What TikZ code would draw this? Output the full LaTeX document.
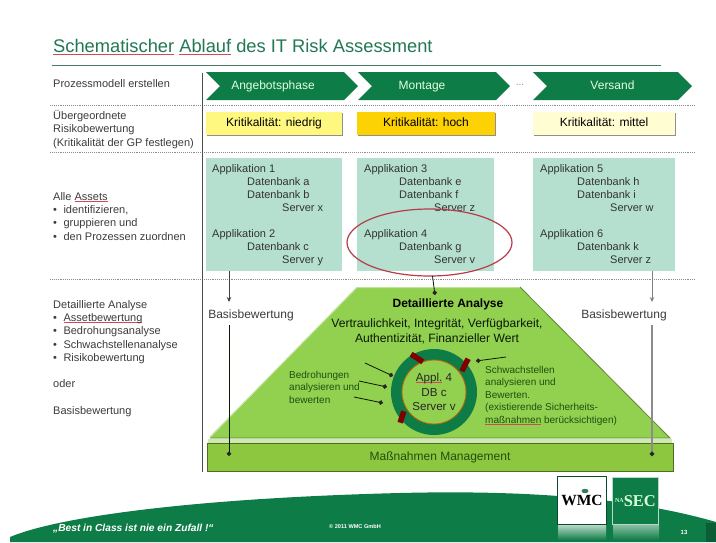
\documentclass[tikz,border=0pt]{standalone}
\usepackage{fontspec}
\setmainfont{Liberation Sans}
\newfontfamily\logofont{Liberation Serif}
\usepackage{tikz}
\usetikzlibrary{positioning, arrows.meta, shapes.symbols, shadows}

\definecolor{wmcgreen}{RGB}{14,124,70}
\definecolor{titlegreen}{RGB}{34,120,84}
\definecolor{labelgrey}{RGB}{60,60,60}
\definecolor{assetfill}{RGB}{181,224,208}
\definecolor{analysisfill}{RGB}{146,208,80}
\definecolor{barfill}{RGB}{141,198,63}
\definecolor{darkleaf}{RGB}{30,80,16}
\definecolor{spellred}{RGB}{215,70,85}

\newsavebox{\spellbox}
\newcommand{\spellmark}[1]{\sbox{\spellbox}{#1}\textcolor{spellred}{\rlap{\rule[-1.6pt]{\wd\spellbox}{.6pt}}}\usebox{\spellbox}}
\newcommand{\fsize}[2]{\fontsize{#1}{#2}\selectfont}

\begin{document}
\begin{tikzpicture}[
  x=1pt, y=-1pt,
  phase/.style={signal, signal to=east, signal from=west, fill=wmcgreen, text=white!88!green,
    minimum height=28pt, inner sep=0pt, text height=8.5pt, text depth=2.5pt, font=\fsize{12}{14}},
  level/.style={rectangle, minimum height=23pt, minimum width=136pt, inner sep=0pt, text height=8.5pt, text depth=2.5pt,
    font=\fsize{12}{14}, drop shadow={shadow xshift=1.2pt, shadow yshift=-1.2pt, fill=black!55, opacity=.8}},
  asset/.style={rectangle, fill=assetfill, minimum height=113pt, minimum width=136pt, inner sep=0pt},
  stacktext/.style={align=left, anchor=north west, inner sep=0pt, text=black!80, font=\fsize{11}{13.1}},
  lefttext/.style={align=left, anchor=north west, inner sep=0pt, text=labelgrey, font=\fsize{11}{13.3}},
  greentext/.style={align=left, anchor=north west, inner sep=0pt, text=darkleaf, font=\fsize{10}{12.4}},
  basis/.style={text=labelgrey, inner sep=0pt, font=\fsize{12}{14}},
  sep/.style={densely dotted, black!45, line width=.9pt},
  arrow/.style={-{Stealth[length=5pt,width=4.5pt]}, black!75, line width=.7pt},
  dotarrow/.style={-{Circle[length=4.5pt, color=black!85]}, black!70!darkleaf, line width=.8pt},
  weak/.style={rectangle, fill=red!50!black, minimum width=14pt, minimum height=5.5pt, inner sep=0pt}
]
  \useasboundingbox (0,0) rectangle (716,542);
  \fill[white] (0,0) rectangle (716,542);

  % Title
  \node[anchor=west, inner sep=0pt, text=titlegreen, font=\fsize{18.3}{22}] (title) at (53,47)
    {\spellmark{Schematischer} \spellmark{Ablauf} des IT Risk Assessment};
  \coordinate (ruleA) at (52,65);
  \coordinate (ruleB) at (661,65);
  \draw[titlegreen!60!gray, line width=.7pt] (ruleA) -- (ruleB);

  % Footer
  \fill[wmcgreen] (10,542) -- (10,537) .. controls (60,516) and (200,498) .. (400,493)
    .. controls (520,490) and (630,497) .. (716,522) -- (716,542) -- cycle;
  \fill[black!25!wmcgreen] (706,523) rectangle (716,542);
  \node[anchor=west, inner sep=0pt, text=white, font=\fsize{10.2}{12}\bfseries\itshape] (motto) at (53,529)
    {„Best in Class ist nie ein Zufall !“};
  \node[inner sep=0pt, text=white, font=\fsize{5.6}{8}\bfseries] (copyright) at (355,526) {© 2011 WMC GmbH};
  \node[inner sep=0pt, text=white, font=\fsize{6}{8}\bfseries] (pageno) at (684,532) {13};

  % Logos
  \shade[top color=wmcgreen!30!white, bottom color=wmcgreen] (558,525) rectangle (606,540);
  \shade[top color=wmcgreen!50!white, bottom color=wmcgreen] (613,525) rectangle (659,540);
  \node[rectangle, draw=black!40!wmcgreen, fill=white, line width=1pt, minimum width=49pt, minimum height=48pt,
    inner sep=0pt, font=\fsize{15.5}{17}\logofont\bfseries] (logoA) at (582,500.5) {\raisebox{-2.5pt}{WMC}};
  \node[rectangle, draw=white!70!wmcgreen, fill=wmcgreen, line width=1.2pt, minimum width=46pt, minimum height=47pt,
    inner sep=0pt, text=white!85!green, font=\fsize{16.5}{18}\logofont\bfseries] (logoB) at (635.5,501)
    {\raisebox{4pt}{\fsize{6}{8}NA}SEC};
  \fill[wmcgreen!70!gray] (585,491) ellipse [x radius=3.5, y radius=2.2];

  % Phases
  \node[phase, minimum width=152pt] (phaseA) at (282,86) {Angebotsphase\rule{18pt}{0pt}};
  \node[phase, minimum width=152pt] (phaseB) at (434,86) {Montage\rule{24pt}{0pt}};
  \node[phase, minimum width=159pt] (phaseC) at (612.5,86) {Versand};
  \node[inner sep=0pt, text=black!45, font=\fsize{10}{12}] (dots) at (520,85) {...};

  % Separators
  \coordinate (sepA) at (50,105);
  \coordinate (sepB) at (50,152);
  \coordinate (sepC) at (50,279);
  \coordinate (sepAe) at (695,105);
  \coordinate (sepBe) at (695,152);
  \coordinate (sepCe) at (695,279);
  \draw[sep] (sepA) -- (sepAe);
  \draw[sep] (sepB) -- (sepBe);
  \draw[sep] (sepC) -- (sepCe);

  % Left column
  \coordinate (axisA) at (202,73);
  \coordinate (axisB) at (202,472);
  \draw[black!70, line width=1pt] (axisA) -- (axisB);
  \node[lefttext] (stepA) at (53,79) {Prozessmodell erstellen};
  \node[lefttext] (stepB) at (53,110) {Übergeordnete\\Risikobewertung\\(Kritikalität der GP festlegen)};
  \node[lefttext] (stepC) at (53,192)
    {Alle \spellmark{Assets}\\•\hspace{6.5pt}identifizieren,\\•\hspace{6.5pt}gruppieren und\\•\hspace{6.5pt}den Prozessen zuordnen};
  \node[lefttext] (stepD) at (53,300)
    {Detaillierte Analyse\\•\hspace{6.5pt}\spellmark{Assetbewertung}\\•\hspace{6.5pt}Bedrohungsanalyse\\•\hspace{6.5pt}Schwachstellenanalyse\\•\hspace{6.5pt}Risikobewertung};
  \node[lefttext] (stepE) at (53,379) {oder};
  \node[lefttext] (stepF) at (53,406) {Basisbewertung};

  % Criticality
  \node[level, fill=yellow!50!white] (levelA) at (274,123.5) {Kritikalität: niedrig};
  \node[level, fill=yellow!70!orange, minimum width=138pt] (levelB) at (426,123.5) {Kritikalität: hoch};
  \node[level, fill=yellow!18!white, minimum width=142pt] (levelC) at (604,123.5) {Kritikalität: mittel};

  % Assets
  \node[asset] (appA) at (274,214.5) {};
  \node[asset, minimum width=137pt] (appB) at (425.5,214.5) {};
  \node[asset, minimum width=142pt] (appC) at (604,214.5) {};
  \node[stacktext] (appAtext) at (212,164)
    {Applikation 1\\\hspace*{35pt}Datenbank a\\\hspace*{35pt}Datenbank b\\\hspace*{70pt}Server x\\[13.1pt]
     Applikation 2\\\hspace*{35pt}Datenbank c\\\hspace*{70pt}Server y};
  \node[stacktext] (appBtext) at (364,164)
    {Applikation 3\\\hspace*{35pt}Datenbank e\\\hspace*{35pt}Datenbank f\\\hspace*{70pt}Server z\\[13.1pt]
     Applikation 4\\\hspace*{35pt}Datenbank g\\\hspace*{70pt}Server v};
  \node[stacktext] (appCtext) at (540,164)
    {Applikation 5\\\hspace*{37pt}Datenbank h\\\hspace*{37pt}Datenbank i\\\hspace*{70pt}Server w\\[13.1pt]
     Applikation 6\\\hspace*{37pt}Datenbank k\\\hspace*{70pt}Server z};

  % Detailed analysis
  \fill[analysisfill] (357,287) -- (520,287) -- (670,438) -- (210,438) -- cycle;
  \draw[analysisfill!60!white, line width=1pt] (210,437) -- (357,287.5) -- (520,287.5);
  \draw[black!35!analysisfill, line width=.8pt] (520,287) -- (670,438) -- (210,438);
  \fill[analysisfill!45!white] (208,439) rectangle (672,443);
  \node[rectangle, fill=barfill, draw=black!45!barfill, line width=.8pt, minimum width=466pt, minimum height=28pt,
    inner sep=0pt, text height=8.5pt, text depth=2.5pt, text=darkleaf, font=\fsize{12}{14}] (measures) at (440,457) {Maßnahmen Management};

  \node[inner sep=0pt, text=black, font=\fsize{12}{14}\bfseries] (analysis) at (448,304) {Detaillierte Analyse};
  \node[inner sep=0pt, align=center, text=black!70!darkleaf, font=\fsize{12.1}{15}] (goals) at (437,331)
    {Vertraulichkeit, Integrität, Verfügbarkeit,\\Authentizität, Finanzieller Wert};

  \node[circle, draw=wmcgreen, line width=11pt, fill=analysisfill, minimum size=75pt, inner sep=0pt] (ring) at (434,392) {};
  \node[circle, draw=orange!80!black, line width=.8pt, minimum size=64pt, inner sep=0pt] (core) at (434,392) {};
  \node[inner sep=0pt, align=center, text=black!85, font=\fsize{11.6}{14.7}] (coretext) at (434,392)
    {\spellmark{Appl.} 4\\DB c\\Server v};
  \node[weak, rotate=-33] (weakA) at (417,358) {};
  \node[weak, rotate=63] (weakB) at (465,365) {};
  \node[weak, rotate=72, minimum width=12pt] (weakC) at (402,417) {};

  \node[greentext] (threats) at (289,371) {Bedrohungen\\analysieren und\\bewerten};
  \node[greentext] (weakness) at (485,366)
    {Schwachstellen\\analysieren und\\Bewerten.\\(existierende Sicherheits-\\\spellmark{maßnahmen} berücksichtigen)};

  \coordinate (threatA) at (365,363);
  \coordinate (threatB) at (359,381);
  \coordinate (threatC) at (354,397);
  \coordinate (weakStart) at (506,357);
  \coordinate (threatEndA) at (393,376);
  \coordinate (threatEndB) at (387,387);
  \coordinate (threatEndC) at (383,403);
  \coordinate (weakEnd) at (476,361);
  \draw[dotarrow] (threatA) -- (threatEndA);
  \draw[dotarrow] (threatB) -- (threatEndB);
  \draw[dotarrow] (threatC) -- (threatEndC);
  \draw[dotarrow] (weakStart) -- (weakEnd);

  % Selection
  \draw[spellred!85!black, line width=1.2pt] (429.5,242.5) ellipse [x radius=82.5, y radius=33.5];
  \coordinate (selectBottom) at (432.5,276);
  \coordinate (analysisTop) at (435,295);
  \draw[dotarrow] (selectBottom) -- (analysisTop);

  % Basic assessment
  \node[basis] (basisA) at (251,315) {Basisbewertung};
  \node[basis] (basisC) at (624,315) {Basisbewertung};
  \coordinate (dropA) at (229,271);
  \coordinate (hitA) at (229,302);
  \coordinate (contA) at (229,325);
  \coordinate (endA) at (229,456);
  \coordinate (dropC) at (652,271);
  \coordinate (hitC) at (652,302);
  \coordinate (contC) at (652,325);
  \coordinate (endC) at (652,456);
  \draw[arrow] (dropA) -- (hitA);
  \draw[dotarrow] (contA) -- (endA);
  \draw[arrow, black!50, line width=1pt] (dropC) -- (hitC);
  \draw[dotarrow, black!45, line width=1.2pt] (contC) -- (endC);

\end{tikzpicture}
\end{document}
